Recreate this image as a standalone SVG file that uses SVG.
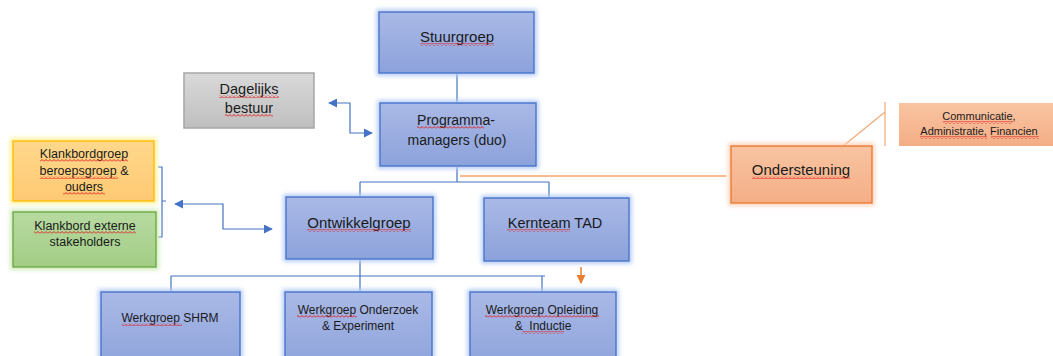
<svg xmlns="http://www.w3.org/2000/svg" width="1053" height="356" viewBox="0 0 1053 356">
<style>
  text { font-family: "Liberation Sans", Arial, sans-serif; fill: #1a1a1a; text-anchor: middle; }
  .blue { fill: url(#gBlue); stroke: #4A78CC; stroke-width: 1.5; filter: url(#glowBlue); }
  .grey { fill: url(#gGrey); stroke: #A6A6A6; stroke-width: 1.5; }
  .yellow { fill: url(#gYellow); stroke: #FFC000; stroke-width: 1.5; filter: url(#glowYellow); }
  .green { fill: url(#gGreen); stroke: #70AD47; stroke-width: 1.5; filter: url(#glowGreen); }
  .orange { fill: url(#gOrange); stroke: #ED7D31; stroke-width: 1.5; filter: url(#glowOrange); }
  .salmon { fill: url(#gOrange); stroke: none; }
  .conn { fill: none; stroke: #4472C4; stroke-width: 1.2; }
  .oconn { fill: none; stroke: #F4A878; stroke-width: 1.2; }
  .sq { fill: url(#squig); }
</style>
<defs>
  <linearGradient id="gBlue" x1="0" y1="0" x2="0" y2="1"><stop offset="0" stop-color="#AAB9E6"/><stop offset="1" stop-color="#8CA2DB"/></linearGradient>
  <linearGradient id="gGrey" x1="0" y1="0" x2="0" y2="1"><stop offset="0" stop-color="#D9D9D9"/><stop offset="1" stop-color="#BFBFBF"/></linearGradient>
  <linearGradient id="gYellow" x1="0" y1="0" x2="0" y2="1"><stop offset="0" stop-color="#FFD88C"/><stop offset="1" stop-color="#FFC973"/></linearGradient>
  <linearGradient id="gGreen" x1="0" y1="0" x2="0" y2="1"><stop offset="0" stop-color="#B8DAA1"/><stop offset="1" stop-color="#A2CD86"/></linearGradient>
  <linearGradient id="gOrange" x1="0" y1="0" x2="0" y2="1"><stop offset="0" stop-color="#F8C4A2"/><stop offset="1" stop-color="#F4AE86"/></linearGradient>
  <filter id="glowBlue" x="-15%" y="-20%" width="130%" height="140%"><feMorphology in="SourceAlpha" operator="dilate" radius="2" result="d"/><feGaussianBlur in="d" stdDeviation="2" result="b"/><feFlood flood-color="#B4CBF7"/><feComposite in2="b" operator="in"/><feMerge><feMergeNode/><feMergeNode in="SourceGraphic"/></feMerge></filter>
  <filter id="glowYellow" x="-15%" y="-20%" width="130%" height="140%"><feMorphology in="SourceAlpha" operator="dilate" radius="2" result="d"/><feGaussianBlur in="d" stdDeviation="2" result="b"/><feFlood flood-color="#FFF08A"/><feComposite in2="b" operator="in"/><feMerge><feMergeNode/><feMergeNode in="SourceGraphic"/></feMerge></filter>
  <filter id="glowGreen" x="-15%" y="-20%" width="130%" height="140%"><feMorphology in="SourceAlpha" operator="dilate" radius="2" result="d"/><feGaussianBlur in="d" stdDeviation="2" result="b"/><feFlood flood-color="#CDEBB5"/><feComposite in2="b" operator="in"/><feMerge><feMergeNode/><feMergeNode in="SourceGraphic"/></feMerge></filter>
  <filter id="glowOrange" x="-15%" y="-20%" width="130%" height="140%"><feMorphology in="SourceAlpha" operator="dilate" radius="2" result="d"/><feGaussianBlur in="d" stdDeviation="2" result="b"/><feFlood flood-color="#FAD2B8"/><feComposite in2="b" operator="in"/><feMerge><feMergeNode/><feMergeNode in="SourceGraphic"/></feMerge></filter>
  <pattern id="squig" patternUnits="userSpaceOnUse" width="4" height="3"><path d="M0,2.5 L2,0.5 L4,2.5" fill="none" stroke="#E02020" stroke-width="1"/></pattern>
  <marker id="arrB" viewBox="0 0 10 10" refX="9" refY="5" markerWidth="9" markerHeight="9" markerUnits="userSpaceOnUse" orient="auto-start-reverse"><path d="M0,0 L10,5 L0,10 Z" fill="#4472C4"/></marker>
  <marker id="arrO" viewBox="0 0 10 10" refX="9" refY="5" markerWidth="9" markerHeight="9" markerUnits="userSpaceOnUse" orient="auto"><path d="M0,0 L10,5 L0,10 Z" fill="#ED7D31"/></marker>
</defs>

<g id="connectors">
  <path class="conn" d="M457,73 V103"/>
  <path class="conn" d="M329,103 H350 V133 H372" marker-start="url(#arrB)" marker-end="url(#arrB)"/>
  <path class="conn" d="M457,166 V182 M360,182 H549 M360,182 V197 M549,182 V198"/>
  <path class="conn" d="M360,259 V292 M171,276 H545 M171,276 V292 M542,276 V292"/>
  <path class="conn" d="M158,167 H162 V237 H158 M162,201 H166"/>
  <path class="conn" d="M175,204 H223 V229 H272" marker-start="url(#arrB)" marker-end="url(#arrB)"/>
  <path d="M460,176 H726" fill="none" stroke="#F8B98F" stroke-width="2"/>
  <path class="oconn" d="M837,151 L885,112 M885,102 V146"/>
  <path d="M581,267 V283" fill="none" stroke="#ED7D31" stroke-width="1.5" marker-end="url(#arrO)"/>
</g>

<g id="stuurgroep">
  <rect class="blue" x="379" y="12" width="155" height="61"/>
  <text x="457" y="42" font-size="15">Stuurgroep</text>
  <rect class="sq" x="420" y="43" width="74" height="3"/>
</g>

<g id="programmamanagers">
  <rect class="blue" x="380" y="103" width="156" height="63"/>
  <text x="456" y="125" font-size="14">Programma-</text>
  <text x="457" y="145" font-size="14">managers (duo)</text>
  <rect class="sq" x="417" y="126" width="67" height="3"/>
</g>

<g id="dagelijksbestuur">
  <rect class="grey" x="184" y="73" width="130" height="55"/>
  <text x="249" y="94" font-size="14.5">Dagelijks</text>
  <text x="249" y="113" font-size="14.5">bestuur</text>
  <rect class="sq" x="219" y="95" width="60" height="3"/>
  <rect class="sq" x="225" y="114" width="48" height="3"/>
</g>

<g id="klankbordgroep">
  <rect class="yellow" x="13" y="141" width="141" height="60"/>
  <text x="84" y="158" font-size="12.5">Klankbordgroep</text>
  <text x="84" y="175" font-size="12.5">beroepsgroep &amp;</text>
  <text x="84" y="191" font-size="12.5">ouders</text>
  <rect class="sq" x="40" y="159" width="88" height="3"/>
  <rect class="sq" x="40" y="176" width="78" height="3"/>
  <rect class="sq" x="63" y="192" width="42" height="3"/>
</g>

<g id="klankbordextern">
  <rect class="green" x="13" y="212" width="143" height="55"/>
  <text x="85" y="230" font-size="12.5">Klankbord externe</text>
  <text x="85" y="246" font-size="12.5">stakeholders</text>
  <rect class="sq" x="34" y="231" width="102" height="3"/>
</g>

<g id="ontwikkelgroep">
  <rect class="blue" x="286" y="197" width="147" height="62"/>
  <text x="359" y="228" font-size="15">Ontwikkelgroep</text>
  <rect class="sq" x="307" y="229" width="104" height="3"/>
</g>

<g id="kernteam">
  <rect class="blue" x="484" y="198" width="145" height="63"/>
  <text x="555" y="228" font-size="14.5">Kernteam TAD</text>
  <rect class="sq" x="507" y="229" width="63" height="3"/>
</g>

<g id="werkgroepshrm">
  <rect class="blue" x="101" y="292" width="139" height="80"/>
  <text x="170" y="322" font-size="12">Werkgroep SHRM</text>
  <rect class="sq" x="122" y="323" width="60" height="3"/>
</g>

<g id="werkgroeponderzoek">
  <rect class="blue" x="285" y="292" width="147" height="80"/>
  <text x="358" y="314" font-size="12">Werkgroep Onderzoek</text>
  <text x="358" y="330" font-size="12">&amp; Experiment</text>
  <rect class="sq" x="297" y="315" width="60" height="3"/>
</g>

<g id="werkgroepopleiding">
  <rect class="blue" x="470" y="292" width="146" height="80"/>
  <text x="542" y="314" font-size="12">Werkgroep Opleiding</text>
  <text x="543" y="330" font-size="12" xml:space="preserve">&amp;  Inductie</text>
  <rect class="sq" x="485" y="315" width="114" height="3"/>
  <rect class="sq" x="522" y="331" width="42" height="3"/>
</g>

<g id="ondersteuning">
  <rect class="orange" x="731" y="146" width="141" height="57"/>
  <text x="801" y="175" font-size="15">Ondersteuning</text>
  <rect class="sq" x="752" y="176" width="98" height="3"/>
</g>

<g id="communicatie">
  <rect class="salmon" x="899" y="103" width="154" height="43"/>
  <text x="979" y="120" font-size="11">Communicatie,</text>
  <text x="979" y="135" font-size="11">Administratie, Financien</text>
  <rect class="sq" x="943" y="121" width="70" height="3"/>
  <rect class="sq" x="920" y="136" width="67" height="3"/>
  <rect class="sq" x="991" y="136" width="48" height="3"/>
</g>
</svg>
